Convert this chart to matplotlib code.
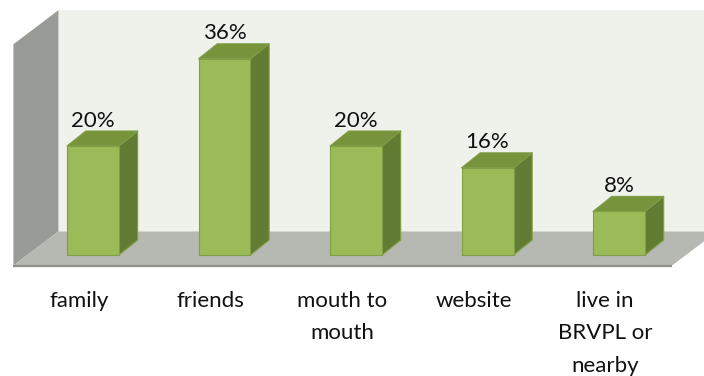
import matplotlib.pyplot as plt
from matplotlib.patches import Polygon

plt.rcParams['font.family'] = ['Lato', 'DejaVu Sans']

categories = ['family', 'friends', 'mouth to\nmouth', 'website', 'live in\nBRVPL or\nnearby']
shares = [20, 36, 20, 16, 8]
value_labels = ['20%', '36%', '20%', '16%', '8%']

# colours of the 3-D box faces and the chart walls
FRONT = '#9bbb59'
TOP = '#77933c'
SIDE = '#637c34'
EDGE = '#7f9e45'
BACK_WALL = '#eff1eb'
SIDE_WALL = '#999b96'
FLOOR = '#b6b8b2'
FLOOR_EDGE = '#8d8f8a'

fig = plt.figure(figsize=(7.04, 3.76), dpi=100)
ax = fig.add_axes([0, 0, 1, 1])
ax.set_xlim(-0.707, 4.646)
ax.set_ylim(-22.2, 46.79)
ax.axis('off')

# floor / wall geometry (x in category units, y in percent)
fx0, fx1 = -0.605, 4.403      # front edge of the floor
fy = -1.93                     # floor front height
ddx, ddy = 0.342, 6.24         # depth of floor
wall_top = 40.6

back_y = fy + ddy
ax.add_patch(Polygon([(fx0 + ddx, back_y), (fx1 + ddx + 1, back_y),
                      (fx1 + ddx + 1, back_y + wall_top),
                      (fx0 + ddx, back_y + wall_top)],
                     closed=True, fc=BACK_WALL, ec='none', zorder=1))
ax.add_patch(Polygon([(fx0, fy), (fx0 + ddx, back_y),
                      (fx0 + ddx, back_y + wall_top), (fx0, fy + wall_top)],
                     closed=True, fc=SIDE_WALL, ec='none', zorder=2))
ax.add_patch(Polygon([(fx0, fy), (fx1, fy), (fx1 + ddx, back_y),
                      (fx0 + ddx, back_y)],
                     closed=True, fc=FLOOR, ec='none', zorder=2))
ax.plot([fx0, fx1], [fy, fy], color=FLOOR_EDGE, lw=1.6, zorder=3,
        solid_capstyle='butt')

# 3-D bars
w = 0.395
bdx, bdy = 0.142, 2.75
for i, v in enumerate(shares):
    x0, x1 = i - w / 2, i + w / 2
    side = [(x1, 0), (x1 + bdx, bdy), (x1 + bdx, v + bdy), (x1, v)]
    top = [(x0, v), (x1, v), (x1 + bdx, v + bdy), (x0 + bdx, v + bdy)]
    front = [(x0, 0), (x1, 0), (x1, v), (x0, v)]
    for pts, c in ((side, SIDE), (top, TOP), (front, FRONT)):
        ax.add_patch(Polygon(pts, closed=True, fc=c, ec=EDGE, lw=0.8,
                             joinstyle='round', zorder=4))
    ax.text(i, v + bdy + 0.8, value_labels[i], ha='center', va='baseline',
            fontsize=16, color='#111111', zorder=5)

# category labels under the floor, one text per line
for i, name in enumerate(categories):
    for k, line in enumerate(name.split('\n')):
        ax.text(i - 0.105, -9.54 - 5.96 * k, line, ha='center',
                va='baseline', fontsize=16, color='#111111')

fig.savefig('out.png', dpi=100)
